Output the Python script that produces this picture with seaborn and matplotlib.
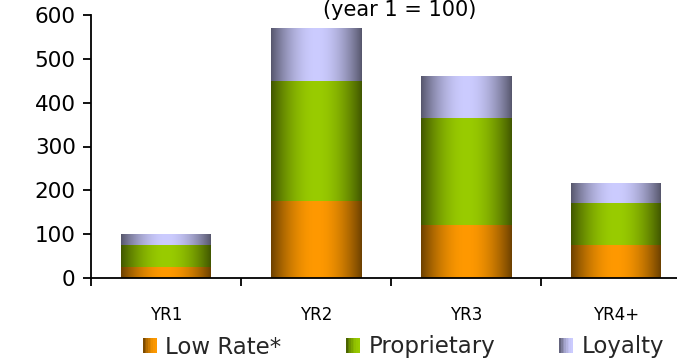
import numpy as np
import pandas as pd
import matplotlib
matplotlib.use("Agg")
import matplotlib.pyplot as plt
from matplotlib.colors import to_rgb
from matplotlib.patches import Rectangle
from matplotlib.legend_handler import HandlerBase
import seaborn as sns

# Revenue index by year, split by product line (year 1 = 100)
categories = ["YR1", "YR2", "YR3", "YR4+"]
low_rate = [25, 175, 120, 75]
proprietary = [50, 275, 245, 95]
loyalty = [25, 120, 95, 45]

series_names = ["Low Rate*", "Proprietary", "Loyalty"]
series_values = [low_rate, proprietary, loyalty]
series_colors = ["#FF9900", "#99CC00", "#CCCCFF"]
y_ticks = [0, 100, 200, 300, 400, 500, 600]
title_text = "(year 1 = 100)"

sns.set_theme(style="white")
plt.rcParams["font.family"] = ["DejaVu Sans"]

fig = plt.figure(figsize=(6.77, 3.64), dpi=100)
ax = fig.add_axes([91 / 677, 86 / 364, 600 / 677, 263 / 364])

# cumulative tops, drawn tallest first so each lower segment sits on top
cum = np.cumsum(np.array(series_values, dtype=float), axis=0)
bar_width = 0.6
drawn = []
for i in reversed(range(len(series_names))):
    df = pd.DataFrame({"cat": categories, "val": cum[i]})
    n_before = len(ax.patches)
    sns.barplot(data=df, x="cat", y="val", color=series_colors[i],
                width=bar_width, saturation=1, ax=ax, zorder=2)
    drawn.append((i, ax.patches[n_before:]))
drawn = dict(drawn)


def shade_profile(n=256, edge=0.42):
    t = np.linspace(0, 1, n)
    return edge + (1 - edge) * np.sin(np.pi * t) ** 0.9


prof = shade_profile()

# cylinder-like horizontal shading for every stacked segment
for i in range(len(series_names)):
    rgb = np.array(to_rgb(series_colors[i]))
    img = (prof[:, None] * rgb[None, :])[None, :, :]
    for j, p in enumerate(drawn[i]):
        x0 = p.get_x()
        x1 = x0 + p.get_width()
        top = p.get_height()
        bottom = drawn[i - 1][j].get_height() if i > 0 else 0.0
        ax.imshow(img, extent=(x0, x1, bottom, top), aspect="auto",
                  interpolation="bilinear", zorder=3 + i)

ax.set_xlim(-0.5, 3.5)
ax.set_ylim(0, 600)
ax.set_yticks(y_ticks)
ax.set_yticklabels([str(v) for v in y_ticks])
ax.set_xticks(range(len(categories)))
ax.set_xticklabels(categories)
ax.set_xticks([-0.5, 0.5, 1.5, 2.5, 3.5], minor=True)
ax.set_xlabel("")
ax.set_ylabel("")

ax.tick_params(axis="y", which="major", direction="out", length=6, width=1.3,
               color="black", labelsize=15.5, pad=5, left=True, labelcolor="black")
ax.tick_params(axis="x", which="major", length=0, labelsize=12, pad=20,
               labelcolor="black")
ax.tick_params(axis="x", which="minor", direction="out", length=6, width=1.3,
               color="black", bottom=True)

for s in ["top", "right"]:
    ax.spines[s].set_visible(False)
for s in ["left", "bottom"]:
    ax.spines[s].set_color("black")
    ax.spines[s].set_linewidth(1.3)
    ax.spines[s].set_zorder(10)


class GradientHandle(HandlerBase):
    def __init__(self, color):
        super().__init__()
        self.color = np.array(to_rgb(color))

    def create_artists(self, legend, orig_handle, xdescent, ydescent,
                       width, height, fontsize, trans):
        n = 8
        arts = []
        for k in range(n):
            f = 0.42 + 0.58 * np.sin(0.5 * np.pi * (k + 0.5) / n) ** 0.9
            r = Rectangle((-xdescent + width * k / n, -ydescent), width / n + 0.3,
                          height, facecolor=np.clip(self.color * f, 0, 1),
                          edgecolor="none", transform=trans)
            arts.append(r)
        return arts


handles = [Rectangle((0, 0), 1, 1, color=c) for c in series_colors]
fig.legend(handles, series_names,
           handler_map={h: GradientHandle(c) for h, c in zip(handles, series_colors)},
           loc="center left", bbox_to_anchor=(143 / 677, 17 / 364),
           ncol=3, frameon=False, fontsize=16.5, borderpad=0, borderaxespad=0,
           handlelength=0.58, handleheight=0.62, handletextpad=0.4,
           columnspacing=2.8)

fig.text(400 / 677, 1 - 16 / 364, title_text, ha="center", va="baseline",
         fontsize=15, color="black")

fig.savefig("out.png", dpi=100)
